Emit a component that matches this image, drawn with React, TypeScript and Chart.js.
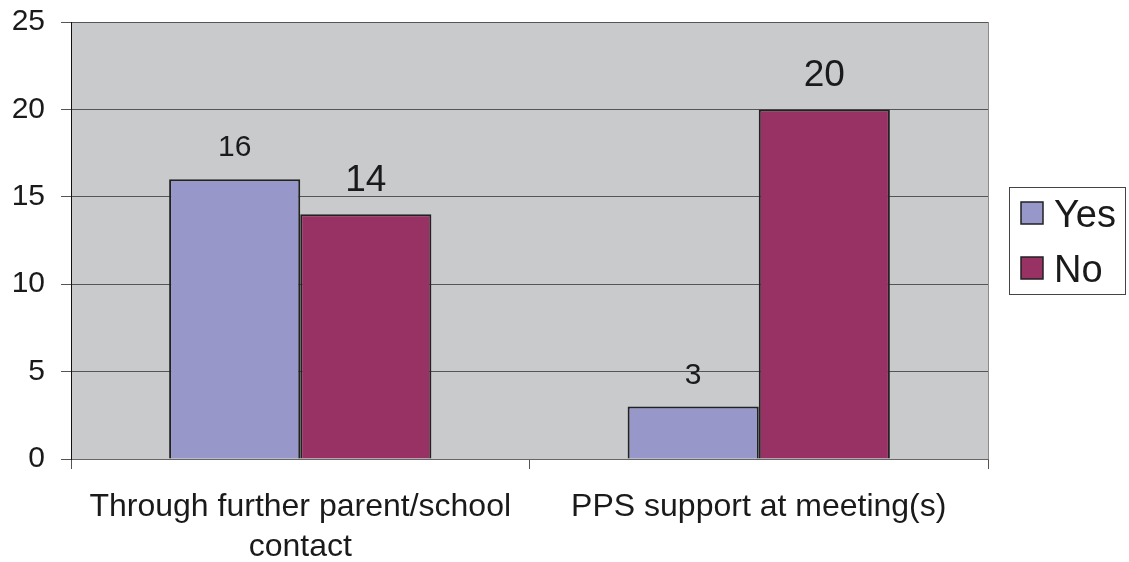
import React, { useEffect, useRef } from "react";
import { Chart, registerables } from "chart.js";

Chart.register(...registerables);

const categories: (string | string[])[] = [
  ["Through further parent/school", "contact"],
  "PPS support at meeting(s)",
];
const seriesNames = ["Yes", "No"];
const yesValues = [16, 3];
const noValues = [14, 20];
const seriesColors = ["#9797ca", "#993264"];
const labelFontSizes = [30, 37];
const yTickValues = [0, 5, 10, 15, 20, 25];

const FONT = "'Liberation Sans', Arial, sans-serif";

const bgPlugin = {
  id: "plotBg",
  beforeDraw(chart: any) {
    const { ctx, chartArea } = chart;
    ctx.save();
    ctx.fillStyle = "#c9cacc";
    ctx.fillRect(chartArea.left, chartArea.top, chartArea.right - chartArea.left, chartArea.bottom - chartArea.top);
    ctx.restore();
  },
  afterDraw(chart: any) {
    const { ctx, chartArea } = chart;
    ctx.save();
    ctx.strokeStyle = "#8a8a8a";
    ctx.lineWidth = 1;
    ctx.beginPath();
    ctx.moveTo(chartArea.right + 0.5, chartArea.top);
    ctx.lineTo(chartArea.right + 0.5, chartArea.bottom);
    ctx.stroke();
    ctx.restore();
  },
};

const valueLabelPlugin = {
  id: "valueLabels",
  afterDatasetsDraw(chart: any) {
    const { ctx } = chart;
    chart.data.datasets.forEach((ds: any, di: number) => {
      const meta = chart.getDatasetMeta(di);
      ctx.save();
      ctx.fillStyle = "#1a1a1a";
      ctx.font = `${labelFontSizes[di]}px ${FONT}`;
      ctx.textAlign = "center";
      ctx.textBaseline = "alphabetic";
      meta.data.forEach((bar: any, i: number) => {
        ctx.fillText(String(ds.data[i]), bar.x, bar.y - 23);
      });
      ctx.restore();
    });
  },
};

const legendPlugin = {
  id: "customLegend",
  afterDraw(chart: any) {
    const { ctx } = chart;
    ctx.save();
    ctx.strokeStyle = "#444";
    ctx.lineWidth = 1;
    ctx.strokeRect(1009.5, 187.5, 116, 107);
    ctx.font = `38px ${FONT}`;
    ctx.textAlign = "left";
    ctx.textBaseline = "alphabetic";
    seriesNames.forEach((name, i) => {
      const y = 202 + i * 55;
      ctx.fillStyle = seriesColors[i];
      ctx.fillRect(1021, y, 22, 22);
      ctx.strokeStyle = "#222";
      ctx.lineWidth = 1.5;
      ctx.strokeRect(1021, y, 22, 22);
      ctx.fillStyle = "#1a1a1a";
      ctx.fillText(name, 1054, y + 25);
    });
    ctx.restore();
  },
};

export default function App() {
  const ref = useRef<HTMLCanvasElement>(null);
  useEffect(() => {
    if (!ref.current) return;
    const chart = new Chart(ref.current, {
      type: "bar",
      data: {
        labels: categories,
        datasets: [
          {
            label: seriesNames[0],
            data: yesValues,
            backgroundColor: seriesColors[0],
            borderColor: "#222",
            borderWidth: 2,
            barPercentage: 1,
            categoryPercentage: 0.572,
          },
          {
            label: seriesNames[1],
            data: noValues,
            backgroundColor: seriesColors[1],
            borderColor: "#222",
            borderWidth: 2,
            barPercentage: 1,
            categoryPercentage: 0.572,
          },
        ],
      },
      options: {
        responsive: false,
        animation: false,
        layout: { padding: { left: 0, top: 22, right: 141, bottom: 0 } },
        plugins: { legend: { display: false }, tooltip: { enabled: false } },
        scales: {
          x: {
            offset: true,
            grid: {
              offset: true,
              drawOnChartArea: false,
              drawTicks: true,
              tickLength: 10,
              color: "#555",
            },
            border: { display: true, color: "#666", width: 1 },
            ticks: {
              color: "#1a1a1a",
              font: { family: FONT, size: 32, lineHeight: 1.25 },
              padding: 18,
              maxRotation: 0,
              autoSkip: false,
            },
            afterFit(scale: any) {
              scale.height = 103;
              scale.paddingLeft = 0;
              scale.paddingRight = 0;
            },
          },
          y: {
            min: 0,
            max: 25,
            afterBuildTicks(scale: any) {
              scale.ticks = yTickValues.map((v) => ({ value: v }));
            },
            grid: { color: "#555", lineWidth: 1, drawTicks: true, tickLength: 10 },
            border: { display: true, color: "#111", width: 1 },
            ticks: {
              color: "#1a1a1a",
              font: { family: FONT, size: 30 },
              padding: 16,
            },
            afterFit(scale: any) {
              scale.width = 71;
              scale.paddingTop = 0;
              scale.paddingBottom = 0;
            },
          },
        },
      },
      plugins: [bgPlugin, valueLabelPlugin, legendPlugin],
    });
    return () => chart.destroy();
  }, []);
  return (
    <div style={{ position: "fixed", left: 0, top: 0, width: 1129, height: 562, background: "#fff" }}>
      <canvas ref={ref} width={1129} height={562} style={{ display: "block" }} />
    </div>
  );
}
